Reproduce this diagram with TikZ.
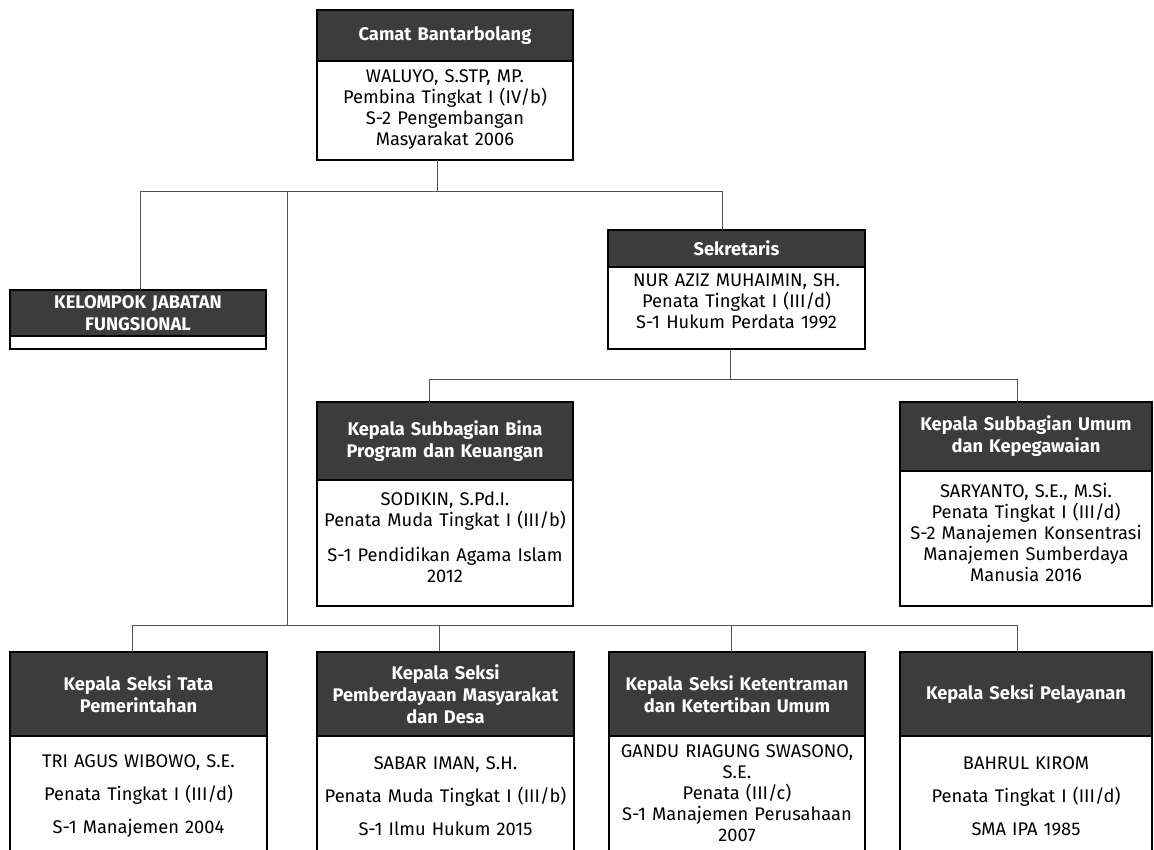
\documentclass[tikz,border=0pt]{standalone}
\usepackage{fontspec}
\setmainfont{Fira Sans}
\usetikzlibrary{calc}
\definecolor{hdrfill}{HTML}{3C3C3C}
\definecolor{conn}{HTML}{505050}
\tikzset{
  bodybox/.style={draw=black, line width=1.5pt, fill=white, rectangle, inner sep=0pt, outer sep=0pt},
  hdrbox/.style={draw=black, line width=1.5pt, fill=hdrfill, rectangle, inner sep=0pt, outer sep=0pt,
    text=white, font=\fontsize{18.3}{22}\selectfont\bfseries, align=center, text width=248pt},
  bodytext/.style={text=black, font=\fontsize{18.3}{21}\selectfont, align=center, text width=248pt, inner sep=0pt},
  link/.style={draw=conn, line width=1pt},
}
% #1 name, #2 x1, #3 y1, #4 ymid, #5 x2, #6 y2, #7 header, #8 body text centre y, #9 body
\newcommand\orgbox[9]{%
  \node[bodybox, minimum width={#5-#2}, minimum height={#6-#4}] (#1-b) at ({(#2+#5)/2},{(#4+#6)/2}) {};
  \node[hdrbox, minimum width={#5-#2}, minimum height={#4-#3}] (#1-h) at ({(#2+#5)/2},{(#3+#4)/2}) {#7};
  \node[bodytext] (#1-t) at ({(#2+#5)/2},#8) {#9};
}
\begin{document}
\begin{tikzpicture}[x=1pt,y=-1pt]
\useasboundingbox (0,0) rectangle (1154,849);
\fill[white] (0,0) rectangle (1154,849);
\clip (0,0) rectangle (1154,849);

\orgbox{camat}{317}{10}{61}{573}{160}{Camat Bantarbolang}{110}%
  {WALUYO, S.STP, MP.\\Pembina Tingkat I (IV/b)\\S-2 Pengembangan\\Masyarakat 2006}
\orgbox{kjf}{10}{290}{336}{266}{349}{KELOMPOK JABATAN\\FUNGSIONAL}{342}{}
\orgbox{sek}{608}{230}{267}{865}{349}{Sekretaris}{301}%
  {NUR AZIZ MUHAIMIN, SH.\\Penata Tingkat I (III/d)\\S-1 Hukum Perdata 1992}
\orgbox{bina}{317}{402}{480}{573}{606}{Kepala Subbagian Bina\\Program dan Keuangan}{537}%
  {SODIKIN, S.Pd.I.\\Penata Muda Tingkat I (III/b)\\[14pt]S-1 Pendidikan Agama Islam\\2012}
\orgbox{umum}{900}{402}{471}{1152}{606}{Kepala Subbagian Umum\\dan Kepegawaian}{532}%
  {SARYANTO, S.E., M.Si.\\Penata Tingkat I (III/d)\\S-2 Manajemen Konsentrasi\\Manajemen Sumberdaya\\Manusia 2016}
\orgbox{tata}{10}{652}{736}{267}{870}{Kepala Seksi Tata\\Pemerintahan}{796}%
  {TRI AGUS WIBOWO, S.E.\\[12pt]Penata Tingkat I (III/d)\\[12pt]S-1 Manajemen 2004}
\orgbox{pmd}{317}{652}{736}{574}{870}{Kepala Seksi\\Pemberdayaan Masyarakat\\dan Desa}{796}%
  {SABAR IMAN, S.H.\\[12pt]Penata Muda Tingkat I (III/b)\\[12pt]S-1 Ilmu Hukum 2015}
\orgbox{ktt}{609}{652}{736}{865}{870}{Kepala Seksi Ketentraman\\dan Ketertiban Umum}{793}%
  {GANDU RIAGUNG SWASONO,\\S.E.\\Penata (III/c)\\S-1 Manajemen Perusahaan\\2007}
\orgbox{pel}{900}{652}{736}{1152}{870}{Kepala Seksi Pelayanan}{796}%
  {BAHRUL KIROM\\[12pt]Penata Tingkat I (III/d)\\[12pt]SMA IPA 1985}

% junction coordinates
\coordinate (busTop) at (437,191);
\coordinate (midTrunk) at (287,191);
\coordinate (busLow) at (287,625);
\coordinate (busSek) at (730,379);

% Camat to top bus
\draw[link] ($(camat-b.south)+(-8,0)$) -- (busTop);
\draw[link] ($(kjf-h.north)+(2,0)$) |- (busTop);
\draw[link] ($(sek-h.north)+(-14.5,0)$) |- (busTop);
% trunk to lower bus
\draw[link] (midTrunk) -- (busLow);
% Sekretaris to subbagian
\draw[link] ($(sek-b.south)+(-6.5,0)$) -- (busSek);
\draw[link] ($(bina-h.north)+(-16,0)$) |- (busSek);
\draw[link] ($(umum-h.north)+(-9,0)$) |- (busSek);
% lower bus to seksi
\draw[link] ($(tata-h.north)+(-6.5,0)$) |- (busLow);
\draw[link] ($(pmd-h.north)+(-6.5,0)$) |- (busLow);
\draw[link] ($(ktt-h.north)+(-6,0)$) |- (busLow);
\draw[link] ($(pel-h.north)+(-9,0)$) |- (busLow);
\end{tikzpicture}
\end{document}
